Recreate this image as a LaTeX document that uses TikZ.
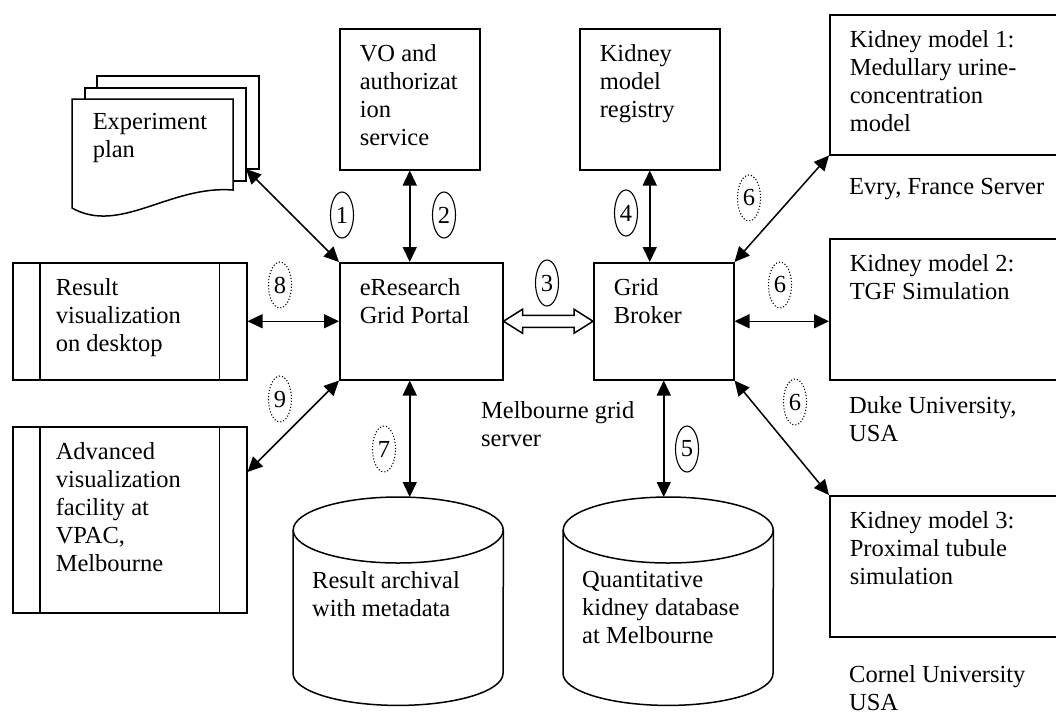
\documentclass[tikz,border=0pt]{standalone}
\usepackage{fontspec}
\setmainfont{Liberation Serif}
\usetikzlibrary{arrows.meta,shapes.geometric,calc}
\newcommand{\cell}[3]{\parbox[c][#2][t]{#1}{\raggedright #3}}

\begin{document}
\begin{tikzpicture}
  [x=1pt, y=-1pt,
    every node/.style={font=\fontsize{24.5pt}{28pt}\selectfont},
    box/.style={draw, line width=1.5pt, anchor=north west, inner xsep=20pt, inner ysep=16pt},
    process/.style={box, inner xsep=43pt},
    store/.style={anchor=north west, inner xsep=19pt, inner ysep=74pt},
    num/.style={ellipse, draw, line width=1.1pt, inner sep=0pt, minimum width=23pt, minimum height=46pt},
    numdot/.style={num, dotted},
    lbl/.style={anchor=north west, inner sep=0pt, align=left},
    link/.style={line width=1.5pt, {Triangle[length=15pt,width=14pt]}-{Triangle[length=15pt,width=14pt]}},
  ]
  \useasboundingbox (0,0) rectangle (1056,713);

  % experiment plan (stack of pages)
  \draw[line width=1.5pt, fill=white] (97,76) rectangle (259,169);
  \draw[line width=1.5pt, fill=white] (85,88) rectangle (246,181);
  \draw[line width=1.5pt, fill=white] (72,99) -- (233,99) -- (233,190)
    .. controls (170,185) and (120,235) .. (72,208) -- cycle;
  \node[box, draw=none, inner ysep=14pt] (plan) at (72,99) {\cell{121pt}{81pt}{Experiment\\plan}};
  \coordinate (planend) at (246,169);

  % services
  \node[box] (vo) at (339,28) {\cell{100pt}{109pt}{VO and\\authorizat\\ion\\service}};
  \node[box] (registry) at (579,28) {\cell{100pt}{109pt}{Kidney\\model\\registry}};
  \node[box] (portal) at (339,262) {\cell{123pt}{85pt}{eResearch\\Grid Portal}};
  \node[box] (broker) at (593,262) {\cell{100pt}{85pt}{Grid\\Broker}};

  % remote models
  \node[box] (model1) at (829,14) {\cell{220pt}{108pt}{Kidney model 1:\\Medullary urine-\\concentration\\model}};
  \node[box] (model2) at (829,238) {\cell{220pt}{109pt}{Kidney model 2:\\TGF Simulation}};
  \node[box] (model3) at (829,495) {\cell{220pt}{109pt}{Kidney model 3:\\Proximal tubule\\simulation}};

  % visualization
  \node[process] (resultvis) at (12,262) {\cell{148pt}{85pt}{Result\\visualization\\on desktop}};
  \node[process] (advvis) at (12,426) {\cell{148pt}{154pt}{Advanced\\visualization\\facility at\\VPAC,\\Melbourne}};
  \foreach \n in {resultvis, advvis}
    \draw[line width=1.5pt] ([xshift=28pt]\n.north west) -- ([xshift=28pt]\n.south west)
      ([xshift=-28pt]\n.north east) -- ([xshift=-28pt]\n.south east);

  % databases
  \node[store] (archive) at (293,497) {\cell{172pt}{60pt}{Result archival\\with metadata}};
  \node[store] (kidneydb) at (563,497) {\cell{172pt}{60pt}{Quantitative\\kidney database\\at Melbourne}};
  \foreach \c in {archive, kidneydb} {
    \draw[line width=1.5pt] ($(\c.north west)+(0,33)$) -- ($(\c.south west)+(0,-32)$)
      arc[start angle=180, end angle=0, x radius=105, y radius=32]
      -- ($(\c.north east)+(0,33)$);
    \draw[line width=1.5pt] ($(\c.north)+(0,33)$) ellipse[x radius=105, y radius=33];
  }

  % site labels
  \node[lbl] (evry) at (849,178) {Evry, France Server};
  \node[lbl] (duke) at (849,396) {Duke University,\\USA};
  \node[lbl] (cornel) at (849,665) {Cornel University\\USA};
  \node[lbl] (melb) at (481,401) {Melbourne grid\\server};

  % connectors
  \draw[link] (planend) -- (portal.north west);
  \draw[link] (vo.south) -- (vo.south |- portal.north);
  \draw[link] (registry.south) -- (registry.south |- broker.north);
  \draw[link] (resultvis.east) -- (portal.west);
  \draw[link] ($(advvis.north east)+(0,46)$) -- (portal.south west);
  \draw[link] (vo.south |- portal.south) -- (vo.south |- archive.north);
  \draw[link] (broker.south) -- (broker.south |- kidneydb.north);
  \draw[link] (broker.north east) -- (model1.south west);
  \draw[link] (broker.east) -- (broker.east -| model2.west);
  \draw[link] (broker.south east) -- (model3.north west);
  \draw[line width=1.5pt, fill=white] (portal.east) -- ++(19,-12) -- ++(0,6)
    -- ($(broker.west)+(-19,-6)$) -- ++(0,-6) -- (broker.west) -- ++(-19,12) -- ++(0,-6)
    -- ($(portal.east)+(19,6)$) -- ++(0,6) -- cycle;

  % step numbers
  \node[num] (n1) at (342,215) {1};
  \node[num] (n2) at (444,215) {2};
  \node[num] (n3) at (547,283) {3};
  \node[num] (n4) at (626,213) {4};
  \node[num] (n5) at (687,449) {5};
  \node[numdot] (n6a) at (749,198) {6};
  \node[numdot] (n6b) at (780,285) {6};
  \node[numdot] (n6c) at (795,402) {6};
  \node[numdot] (n7) at (384,449) {7};
  \node[numdot] (n8) at (280,285) {8};
  \node[numdot] (n9) at (280,399) {9};
\end{tikzpicture}
\end{document}
